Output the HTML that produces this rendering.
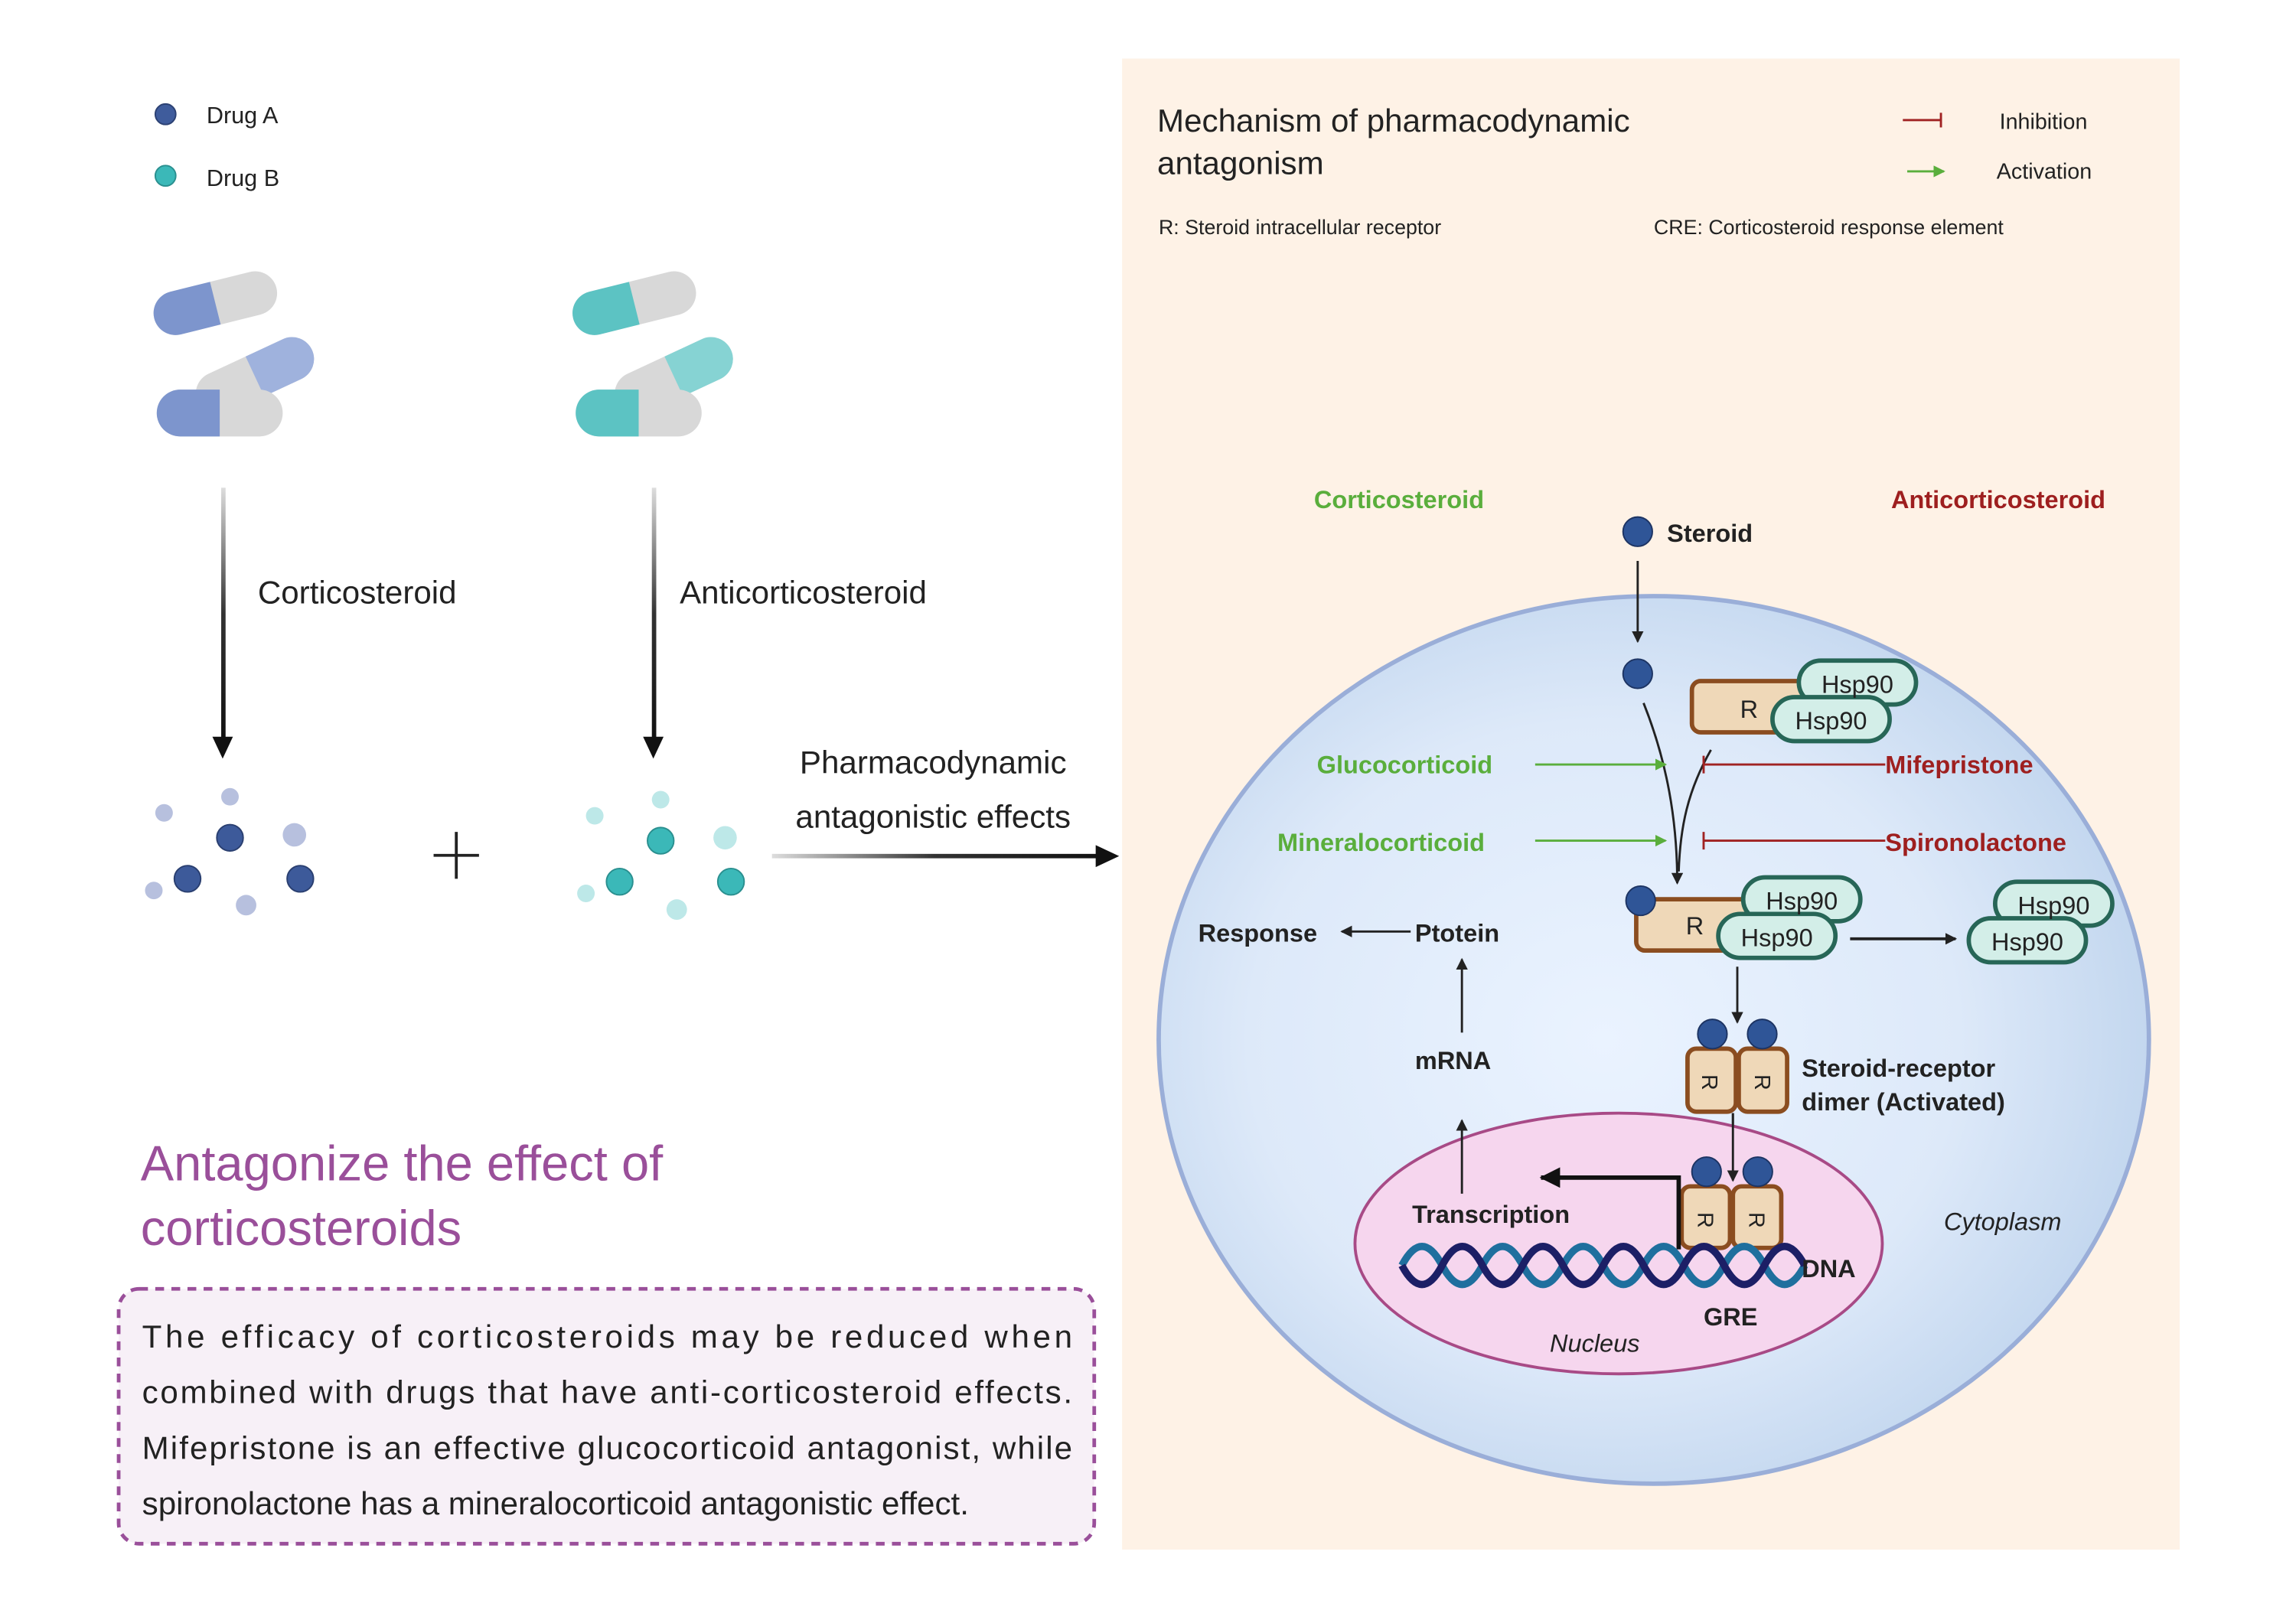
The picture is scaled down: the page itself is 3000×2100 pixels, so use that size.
<!DOCTYPE html>
<html><head><meta charset="utf-8"><style>
html,body{margin:0;padding:0;background:#fff}
svg{display:block}
text{font-family:"Liberation Sans",sans-serif}
.b{font-weight:bold}
</style></head><body>
<svg width="3000" height="2100" viewBox="0 0 1567.4 1097.2" preserveAspectRatio="none" xmlns="http://www.w3.org/2000/svg">
<defs>
<radialGradient id="cell" cx="0.45" cy="0.5" r="0.6">
<stop offset="0" stop-color="#eaf3ff"/><stop offset="0.6" stop-color="#dde9f9"/><stop offset="1" stop-color="#bcd2ec"/></radialGradient>
<linearGradient id="vg" x1="0" y1="0" x2="0" y2="1"><stop offset="0" stop-color="#ddd"/><stop offset="0.5" stop-color="#333"/><stop offset="1" stop-color="#111"/></linearGradient>
<linearGradient id="hg" x1="0" y1="0" x2="1" y2="0"><stop offset="0" stop-color="#ddd"/><stop offset="0.5" stop-color="#333"/><stop offset="1" stop-color="#111"/></linearGradient>
<marker id="ah" markerWidth="8" markerHeight="8" refX="7" refY="4" orient="auto" markerUnits="userSpaceOnUse"><path d="M0,0 L8,4 L0,8 z" fill="#222"/></marker>
<marker id="ag" markerWidth="8" markerHeight="8" refX="7" refY="4" orient="auto" markerUnits="userSpaceOnUse"><path d="M0,0 L8,4 L0,8 z" fill="#5aae3c"/></marker>
<marker id="ab" markerWidth="14" markerHeight="14" refX="13" refY="7" orient="auto" markerUnits="userSpaceOnUse"><path d="M0,0 L14,7 L0,14 z" fill="#111"/></marker>
</defs>

<!-- legend -->
<circle cx="113" cy="78" r="7" fill="#3f5c9c" stroke="#2c4173"/>
<text x="141" y="84" font-size="16" fill="#222">Drug A</text>
<circle cx="113" cy="120" r="7" fill="#3bb8b8" stroke="#2a8f8f"/>
<text x="141" y="127" font-size="16" fill="#222">Drug B</text>

<!-- capsules A -->
<g>
<g transform="translate(147,207) rotate(-14)"><rect x="-43" y="-15" width="86" height="30" rx="15" fill="#d8d8d8"/><path d="M0,-15 H-28 A15,15 0 0 0 -28,15 H0 z" fill="#7d95cd"/></g>
<g transform="translate(174,257) rotate(-25)"><rect x="-43" y="-15" width="86" height="30" rx="15" fill="#d8d8d8"/><path d="M0,-15 H28 A15,15 0 0 1 28,15 H0 z" fill="#9fb2dd"/></g>
<g transform="translate(150,282)"><rect x="-43" y="-16" width="86" height="32" rx="16" fill="#d8d8d8"/><path d="M0,-16 H-27 A16,16 0 0 0 -27,16 H0 z" fill="#7d95cd"/></g>
</g>
<g>
<g transform="translate(433,207) rotate(-14)"><rect x="-43" y="-15" width="86" height="30" rx="15" fill="#d8d8d8"/><path d="M0,-15 H-28 A15,15 0 0 0 -28,15 H0 z" fill="#5cc3c3"/></g>
<g transform="translate(460,257) rotate(-25)"><rect x="-43" y="-15" width="86" height="30" rx="15" fill="#d8d8d8"/><path d="M0,-15 H28 A15,15 0 0 1 28,15 H0 z" fill="#86d3d3"/></g>
<g transform="translate(436,282)"><rect x="-43" y="-16" width="86" height="32" rx="16" fill="#d8d8d8"/><path d="M0,-16 H-27 A16,16 0 0 0 -27,16 H0 z" fill="#5cc3c3"/></g>
</g>

<!-- vertical arrows -->
<rect x="151" y="333" width="3" height="172" fill="url(#vg)"/>
<path d="M145,503 L159,503 L152,518 z" fill="#111"/>
<rect x="445" y="333" width="3" height="172" fill="url(#vg)"/>
<path d="M439,503 L453,503 L446,518 z" fill="#111"/>
<text x="176" y="412" font-size="22" fill="#222">Corticosteroid</text>
<text x="464" y="412" font-size="22" fill="#222">Anticorticosteroid</text>

<!-- dots -->
<g fill="#b7c0de"><circle cx="112" cy="555" r="6"/><circle cx="157" cy="544" r="6"/><circle cx="201" cy="570" r="8"/><circle cx="105" cy="608" r="6"/><circle cx="168" cy="618" r="7"/></g>
<g fill="#3d5a9a" stroke="#2a3f70"><circle cx="157" cy="572" r="9"/><circle cx="128" cy="600" r="9"/><circle cx="205" cy="600" r="9"/></g>
<g fill="#bde8e8"><circle cx="406" cy="557" r="6"/><circle cx="451" cy="546" r="6"/><circle cx="495" cy="572" r="8"/><circle cx="400" cy="610" r="6"/><circle cx="462" cy="621" r="7"/></g>
<g fill="#3bb8b8" stroke="#2a8f8f"><circle cx="451" cy="574" r="9"/><circle cx="423" cy="602" r="9"/><circle cx="499" cy="602" r="9"/></g>
<path d="M296,584 H327 M311.5,568 V600" stroke="#222" stroke-width="2"/>

<text x="637" y="528" font-size="22" fill="#222" text-anchor="middle">Pharmacodynamic</text>
<text x="637" y="565" font-size="22" fill="#222" text-anchor="middle">antagonistic effects</text>
<rect x="527" y="583" width="222" height="3" fill="url(#hg)"/>
<path d="M748,577 L764,584.5 L748,592 z" fill="#111"/>

<text x="96" y="806" font-size="34" fill="#9a4f9a">Antagonize the effect of</text>
<text x="96" y="850" font-size="34" fill="#9a4f9a">corticosteroids</text>
<rect x="81" y="880" width="666" height="174" rx="14" fill="#f7f0f7" stroke="#9a4f9a" stroke-width="2.5" stroke-dasharray="6,5"/>
<g font-size="22" fill="#222">
<text x="97" y="920" textLength="635" lengthAdjust="spacing">The efficacy of corticosteroids may be reduced when</text>
<text x="97" y="958" textLength="635" lengthAdjust="spacing">combined with drugs that have anti-corticosteroid effects.</text>
<text x="97" y="996" textLength="635" lengthAdjust="spacing">Mifepristone is an effective glucocorticoid antagonist, while</text>
<text x="97" y="1034">spironolactone has a mineralocorticoid antagonistic effect.</text>
</g>

<!-- right panel -->
<rect x="766" y="40" width="722" height="1018" fill="#fef2e6"/>
<text x="790" y="90" font-size="22" fill="#222">Mechanism of pharmacodynamic</text>
<text x="790" y="119" font-size="22" fill="#222">antagonism</text>
<path d="M1299,82 H1325 M1325,77 V87" stroke="#a02222" stroke-width="1.5"/>
<text x="1365" y="88" font-size="15" fill="#222">Inhibition</text>
<line x1="1302" y1="117" x2="1327" y2="117" stroke="#5aae3c" stroke-width="1.5" marker-end="url(#ag)"/>
<text x="1363" y="122" font-size="15" fill="#222">Activation</text>
<text x="791" y="160" font-size="14" fill="#222">R: Steroid intracellular receptor</text>
<text x="1129" y="160" font-size="14" fill="#222">CRE: Corticosteroid response element</text>
<text x="897" y="347" font-size="17" class="b" fill="#5aae3c">Corticosteroid</text>
<text x="1291" y="347" font-size="17" class="b" fill="#9e1f1f">Anticorticosteroid</text>
<circle cx="1118" cy="363" r="10" fill="#2f5597" stroke="#1d3463"/>
<text x="1138" y="370" font-size="17" class="b" fill="#222">Steroid</text>

<ellipse cx="1129" cy="710" rx="338" ry="303" fill="url(#cell)" stroke="#9aaed8" stroke-width="3"/>
<line x1="1118" y1="383" x2="1118" y2="438" stroke="#222" stroke-width="1.5" marker-end="url(#ah)"/>
<circle cx="1118" cy="460" r="10" fill="#2f5597" stroke="#1d3463"/>

<g stroke-width="3">
<rect x="1155" y="465" width="80" height="35" rx="6" fill="#efd8b8" stroke="#8b4d20"/>
<rect x="1228" y="451" width="80" height="30" rx="15" fill="#d3eee8" stroke="#276657"/>
<rect x="1210" y="476" width="80" height="30" rx="15" fill="#d3eee8" stroke="#276657"/>
</g>
<text x="1194" y="490" font-size="17" text-anchor="middle" fill="#222">R</text>
<text x="1268" y="473" font-size="17" text-anchor="middle" fill="#222">Hsp90</text>
<text x="1250" y="498" font-size="17" text-anchor="middle" fill="#222">Hsp90</text>

<path d="M1122,480 C1138,520 1145,560 1145,603" fill="none" stroke="#222" stroke-width="1.5" marker-end="url(#ah)"/>
<path d="M1168,512 C1152,540 1147,565 1146,595" fill="none" stroke="#222" stroke-width="1.5"/>

<text x="899" y="528" font-size="17" class="b" fill="#5aae3c">Glucocorticoid</text>
<line x1="1048" y1="522" x2="1137" y2="522" stroke="#5aae3c" stroke-width="1.5" marker-end="url(#ag)"/>
<path d="M1163,522 H1287 M1163,516 V528" stroke="#a02222" stroke-width="1.5"/>
<text x="1287" y="528" font-size="17" class="b" fill="#9e1f1f">Mifepristone</text>
<text x="872" y="581" font-size="17" class="b" fill="#5aae3c">Mineralocorticoid</text>
<line x1="1048" y1="574" x2="1137" y2="574" stroke="#5aae3c" stroke-width="1.5" marker-end="url(#ag)"/>
<path d="M1163,574 H1287 M1163,568 V580" stroke="#a02222" stroke-width="1.5"/>
<text x="1287" y="581" font-size="17" class="b" fill="#9e1f1f">Spironolactone</text>

<g stroke-width="3">
<rect x="1117" y="614" width="80" height="35" rx="6" fill="#efd8b8" stroke="#8b4d20"/>
<rect x="1190" y="599" width="80" height="30" rx="15" fill="#d3eee8" stroke="#276657"/>
<rect x="1173" y="624" width="80" height="30" rx="15" fill="#d3eee8" stroke="#276657"/>
<rect x="1362" y="602" width="80" height="30" rx="15" fill="#d3eee8" stroke="#276657"/>
<rect x="1344" y="627" width="80" height="30" rx="15" fill="#d3eee8" stroke="#276657"/>
</g>
<circle cx="1120" cy="615" r="10" fill="#2f5597" stroke="#1d3463"/>
<text x="1157" y="638" font-size="17" text-anchor="middle" fill="#222">R</text>
<text x="1230" y="621" font-size="17" text-anchor="middle" fill="#222">Hsp90</text>
<text x="1213" y="646" font-size="17" text-anchor="middle" fill="#222">Hsp90</text>
<text x="1402" y="624" font-size="17" text-anchor="middle" fill="#222">Hsp90</text>
<text x="1384" y="649" font-size="17" text-anchor="middle" fill="#222">Hsp90</text>
<line x1="1263" y1="641" x2="1335" y2="641" stroke="#222" stroke-width="2" marker-end="url(#ah)"/>
<line x1="1186" y1="660" x2="1186" y2="698" stroke="#222" stroke-width="1.5" marker-end="url(#ah)"/>

<g stroke-width="3" fill="#efd8b8" stroke="#8b4d20">
<rect x="1152" y="716" width="33" height="43" rx="6"/><rect x="1187" y="716" width="33" height="43" rx="6"/>
</g>
<circle cx="1169" cy="706" r="10" fill="#2f5597" stroke="#1d3463"/>
<circle cx="1203" cy="706" r="10" fill="#2f5597" stroke="#1d3463"/>
<text transform="translate(1162,739) rotate(90)" font-size="15" text-anchor="middle" fill="#222">R</text>
<text transform="translate(1198,739) rotate(90)" font-size="15" text-anchor="middle" fill="#222">R</text>
<text x="1230" y="735" font-size="17" class="b" fill="#222">Steroid-receptor</text>
<text x="1230" y="758" font-size="17" class="b" fill="#222">dimer (Activated)</text>
<line x1="1183" y1="760" x2="1183" y2="806" stroke="#222" stroke-width="1.5" marker-end="url(#ah)"/>

<ellipse cx="1105" cy="849" rx="180" ry="89" fill="#f6d6ee" stroke="#a84a86" stroke-width="2"/>
<line x1="1183" y1="760" x2="1183" y2="806" stroke="#222" stroke-width="1.5" marker-end="url(#ah)"/>
<g stroke-width="3" fill="#efd8b8" stroke="#8b4d20">
<rect x="1148" y="810" width="33" height="42" rx="6"/><rect x="1183" y="810" width="33" height="42" rx="6"/>
</g>
<circle cx="1165" cy="800" r="10" fill="#2f5597" stroke="#1d3463"/>
<circle cx="1200" cy="800" r="10" fill="#2f5597" stroke="#1d3463"/>
<text transform="translate(1159,833) rotate(90)" font-size="15" text-anchor="middle" fill="#222">R</text>
<text transform="translate(1194,833) rotate(90)" font-size="15" text-anchor="middle" fill="#222">R</text>

<path d="M1146,853 V804 H1052" fill="none" stroke="#111" stroke-width="3" marker-end="url(#ab)"/>
<text x="964" y="835" font-size="17" class="b" fill="#222">Transcription</text>

<path d="M957,864 q13.75,-26 27.5,0 t27.5,0 t27.5,0 t27.5,0 t27.5,0 t27.5,0 t27.5,0 t27.5,0 t27.5,0 t27.5,0" fill="none" stroke="#1f6f9e" stroke-width="5"/>
<path d="M957,864 q13.75,26 27.5,0 t27.5,0 t27.5,0 t27.5,0 t27.5,0 t27.5,0 t27.5,0 t27.5,0 t27.5,0 t27.5,0" fill="none" stroke="#1c1f66" stroke-width="5"/>
<text x="1230" y="872" font-size="17" class="b" fill="#222">DNA</text>
<text x="1163" y="905" font-size="17" class="b" fill="#222">GRE</text>
<text x="1058" y="923" font-size="17" font-style="italic" fill="#222">Nucleus</text>
<text x="1327" y="840" font-size="17" font-style="italic" fill="#222">Cytoplasm</text>

<line x1="998" y1="815" x2="998" y2="765" stroke="#222" stroke-width="1.5" marker-end="url(#ah)"/>
<text x="966" y="730" font-size="17" class="b" fill="#222">mRNA</text>
<line x1="998" y1="705" x2="998" y2="655" stroke="#222" stroke-width="1.5" marker-end="url(#ah)"/>
<text x="966" y="643" font-size="17" class="b" fill="#222">Ptotein</text>
<line x1="963" y1="636" x2="916" y2="636" stroke="#222" stroke-width="1.5" marker-end="url(#ah)"/>
<text x="818" y="643" font-size="17" class="b" fill="#222">Response</text>
</svg>
</body></html>
